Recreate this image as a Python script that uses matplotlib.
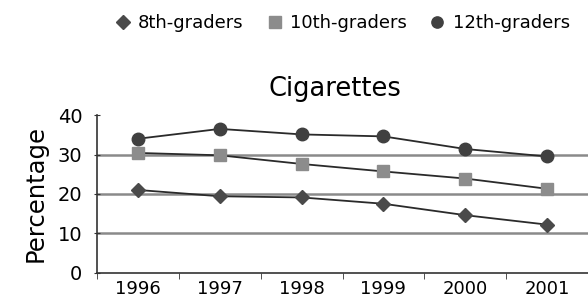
import matplotlib
matplotlib.use("Agg")
import matplotlib.pyplot as plt

plt.rcParams['font.family'] = ['DejaVu Sans']

years = ["1996", "1997", "1998", "1999", "2000", "2001"]
grade8 = [21.0, 19.4, 19.1, 17.5, 14.6, 12.2]
grade10 = [30.4, 29.8, 27.6, 25.7, 23.9, 21.3]
grade12 = [34.0, 36.5, 35.1, 34.6, 31.4, 29.5]

fig = plt.figure(figsize=(5.88, 2.99), dpi=100)
ax = fig.add_axes([0.165, 0.088, 0.835, 0.527])

x = list(range(len(years)))
for yv in [10, 20, 30]:
    ax.axhline(yv, color='#8a8a8a', lw=1.8, zorder=1)

ax.plot(x, grade8, color='#2a2a2a', lw=1.3, marker='D', ms=7.5,
        mfc='#4a4a4a', mec='#4a4a4a', label='8th-graders', zorder=3)
ax.plot(x, grade10, color='#2a2a2a', lw=1.3, marker='s', ms=9,
        mfc='#8c8c8c', mec='#8c8c8c', label='10th-graders', zorder=3)
ax.plot(x, grade12, color='#2a2a2a', lw=1.3, marker='o', ms=9,
        mfc='#404040', mec='#404040', label='12th-graders', zorder=3)

ax.set_xlim(-0.5, 5.5)
ax.set_ylim(0, 40)
ax.set_yticks([0, 10, 20, 30, 40])
ax.set_xticks(x)
ax.set_xticklabels(years)
ax.set_xticks([i + 0.5 for i in range(-1, 6)], minor=True)
ax.tick_params(axis='x', which='major', length=0, labelsize=13, pad=5)
ax.tick_params(axis='x', which='minor', length=4, color='#333333')
ax.tick_params(axis='y', length=5, direction='inout', labelsize=14,
               color='#333333', pad=8)

for s in ['top', 'right']:
    ax.spines[s].set_visible(False)
for s in ['left', 'bottom']:
    ax.spines[s].set_color('#333333')
    ax.spines[s].set_linewidth(1.2)

ax.set_ylabel("Percentage", fontsize=17.5, labelpad=7)
ax.set_title("Cigarettes", fontsize=18.5, pad=14, x=0.485)

fig.legend(loc='center', bbox_to_anchor=(0.583, 0.923), ncol=3,
           frameon=False, fontsize=13, handlelength=0.8, handletextpad=0.45,
           columnspacing=1.3, markerscale=0.9)
for h in fig.legends[0].get_lines():
    h.set_linestyle('none')

fig.savefig("out.png", dpi=100)
